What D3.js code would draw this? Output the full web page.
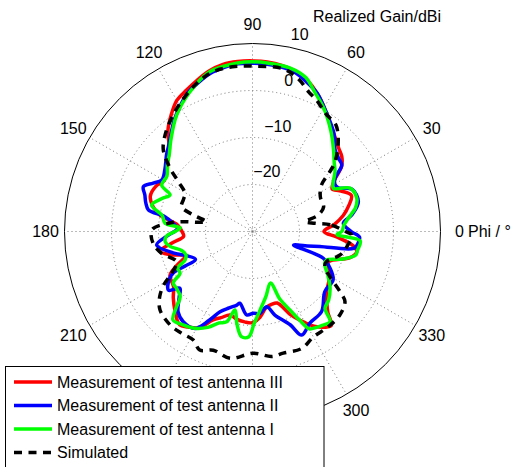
<!DOCTYPE html>
<html>
<head>
<meta charset="utf-8">
<script src="https://cdn.jsdelivr.net/npm/d3@7"></script>
<style>
body { margin: 0; background: #fff; }
svg text { font-family: "Liberation Sans", Arial, Helvetica, sans-serif; font-size: 16px; fill: #000; }
</style>
</head>
<body>
<div id="chart"></div>
<script>
// realized gain (dBi) against phi (deg)
var phiIII = [0,5,10,15,20,25,28,32,36,40,44,50,55,60,65,70,75,80,85,90,95,100,105,110,115,120,125,130,135,140,145,150,155,161,166,170,175,180,184,188,192,196,200,204,208,215,220,226,232,236,241,246,250,255,260,265,270,275,280,285,289,295,300,303,307,310,313,316,321,326,331,338,345,349,352,356];
var gainIII = [-14.8,-12.5,-10.4,-8.8,-7.6,-9.5,-10.8,-9.5,-6.6,-5.2,-4.5,-3,-1.5,0.5,2.5,4.2,5.3,5.9,6.2,6.3,6.3,6.1,5.4,4.3,3.2,2.2,0.2,-2,-5,-6.5,-7.8,-8.3,-7.3,-7,-8.2,-10,-14,-15,-15.3,-12.8,-9.8,-12,-14.8,-12.5,-10.1,-9.5,-8,-6.3,-4.8,-5.5,-6.6,-9.4,-10.5,-11.6,-11,-10.7,-10.6,-11.7,-13.5,-14,-13.9,-10.3,-7.6,-6,-4.5,-3.9,-6.5,-8,-9.7,-10.5,-11.1,-12.6,-8.5,-7.4,-8.4,-11.8];

var phiII = [0,5.2,9.4,15.7,23,27,30,33,36.7,40,44.6,50,55,60,65,70,75,80,85,90,95,100,105,110,115.5,120,125,130,134.8,138.3,144.9,150.4,154,157.7,161.2,165,168.3,170.4,174.1,178,182.4,188,195,200,206,207.5,210,215,218,222,227.2,232.5,239.3,244,248,253,258,260,266,270.6,275.2,280.7,285,292,295.4,302,310.8,320.3,329,334.6,339.3,341.7,344.8,347.5,350.5,353,357];
var gainII = [-9,-10.6,-8.6,-6.6,-7,-9.5,-9.8,-9,-6.3,-6,-5.3,-3,-1.3,0.5,2.5,3.8,5,5.5,5.7,5.8,5.8,5.4,4.8,3.7,2.4,0.8,-1,-3,-4.6,-5.5,-7.2,-7.8,-6.5,-4.9,-5.8,-6.5,-7.4,-11.1,-13,-14,-12.1,-9.4,-12.5,-15,-16.5,-11.1,-9.5,-8.2,-10.4,-9,-6.7,-5.8,-6,-9,-11.6,-13,-14,-14.5,-12.2,-12.6,-12.5,-13.7,-11.6,-8.6,-5.6,-7,-7.5,-10,-10,-11.7,-13.9,-20.8,-18.4,-15.3,-8.2,-7.5,-7.2];

var phiI = [0,4,8,13,18,24,28,31,36,40,45,52,60,66,71,77,85,90,95,105,114,123,132,137,142,147,153,156,160,165.3,170,174.6,177,180,183,186.6,190,195,199,203,206,210,213,217,222,225,228,233,239,245,250,254,257.4,260.5,264,268,271,275.5,281.7,289.3,292,295.5,298,300.3,302,306,310.7,313.3,318,324,330,336,339,343,347,350,355,358];
var gainI = [-11,-10.5,-9.4,-7.5,-6.7,-7.3,-10.5,-10,-8.3,-7.3,-5.6,-2.9,0.3,2.5,4.7,5.7,6,6.1,6,5.2,2.6,-0.4,-4,-5.8,-7,-8.3,-8.3,-10.8,-9.5,-7.8,-10.5,-11.3,-14.6,-13.5,-11.7,-11.3,-12.1,-14.4,-15,-14.4,-12.3,-12.2,-9.9,-9.8,-9.3,-7,-4.7,-5.2,-6,-7.5,-9.3,-10,-12.9,-10,-7.5,-7.6,-10.4,-13.2,-15.9,-18.4,-14.5,-11.5,-8.6,-6,-5.7,-5.2,-4.7,-7.5,-8.2,-9.6,-11.5,-13.2,-13.1,-10,-7.5,-7.3,-7,-12];

var phiSim = [0,5,7.5,10.6,14,19,27,34,37.7,40.2,46.3,52,58,64,68,73,79,90,97,104,110.6,119.5,126,132.2,137.6,142.5,146.1,150.5,155,160.7,164.4,168,170.4,171.7,174.4,179.1,186.8,193.5,201.7,207.4,211,215,220.3,228.6,235,241.4,246,251.7,260,270.4,278.7,284.2,292.8,300,308.5,316.3,322.8,325.5,329.7,334.1,338,345,352,358];
var gainSim = [-10.2,-13.4,-16.6,-18.6,-15.6,-14,-13.8,-12.3,-9.2,-7,-3.6,-1.2,-0.5,1.1,2,3.8,5.2,5.2,5.3,5,3.7,1.3,-0.5,-2.3,-4.3,-7.9,-11,-13.5,-13.8,-14,-16.9,-20,-18.3,-15.5,-12,-8.6,-8.7,-10.1,-12.6,-10.6,-8,-5.9,-4.2,-3.5,-3.6,-3.7,-2.4,-3.4,-2.6,-4.1,-3.1,-3.3,-3,-4.1,-4.1,-4.3,-5.3,-7.4,-10.9,-12.9,-13,-10.7,-9.5,-8.9];

var seriesNames = ["Measurement of test antenna III", "Measurement of test antenna II", "Measurement of test antenna I", "Simulated"];
var angleTicks = [0, 30, 60, 90, 120, 150, 180, 210, 240, 270, 300, 330];
var ringTicks = [-20, -10, 0, 10];

var width = 518, height = 467;
var cx = 252.5, cy = 231.5, rMax = 188;

var svg = d3.select("#chart").append("svg")
	.attr("width", width)
	.attr("height", height);

svg.append("rect").attr("width", width).attr("height", height).attr("fill", "#fff");

var r = d3.scaleLinear().domain([-30, 10]).range([0, rMax]);
var rad = function(deg) { return deg * Math.PI / 180; };

var plot = svg.append("g").attr("transform", "translate(" + cx + "," + cy + ")");

// dotted grid: rings and spokes
var grid = plot.append("g")
	.attr("fill", "none")
	.attr("stroke", "#777")
	.attr("stroke-width", 1)
	.attr("stroke-dasharray", "1,3");

grid.selectAll("circle.ring")
	.data([-29.4].concat(ringTicks.slice(0, 3)))
	.enter().append("circle")
		.attr("class", "ring")
		.attr("r", function(d) { return r(d); });

grid.selectAll("line")
	.data(angleTicks)
	.enter().append("line")
		.attr("x1", 0).attr("y1", 0)
		.attr("x2", function(d) { return r(10) * Math.cos(rad(d)); })
		.attr("y2", function(d) { return -r(10) * Math.sin(rad(d)); });

plot.append("circle")
	.attr("r", r(10))
	.attr("fill", "none")
	.attr("stroke", "#000")
	.attr("stroke-width", 1);

// angle labels; 240 and 270 sit under the legend box, so leave them out
plot.selectAll("text.ang")
	.data(angleTicks.filter(function(d) { return d != 240 && d != 270; }))
	.enter().append("text")
		.attr("class", "ang")
		.attr("x", function(d) { return 207 * Math.cos(rad(d)); })
		.attr("y", function(d) { return -207 * Math.sin(rad(d)); })
		.attr("text-anchor", "middle")
		.attr("dominant-baseline", "central")
		.text(function(d) { return d; });

// ring labels
plot.selectAll("text.ring")
	.data(ringTicks)
	.enter().append("text")
		.attr("class", "ring")
		.attr("x", function(d) { return (r(d) + 14.5) * Math.cos(rad(76.5)); })
		.attr("y", function(d) { return -(r(d) + 14.5) * Math.sin(rad(76.5)); })
		.attr("text-anchor", "middle")
		.attr("dominant-baseline", "central")
		.text(function(d) { return d < 0 ? "\u2212" + Math.abs(d) : d; });

var line = d3.lineRadial()
	.angle(function(d) { return rad(90 - d[0]); })
	.radius(function(d) { return r(d[1]); })
	.curve(d3.curveCatmullRomClosed.alpha(0.5));

var series = [
	{ phi: phiIII, gain: gainIII, color: "#ff0000", dash: null },
	{ phi: phiII, gain: gainII, color: "#0000ff", dash: null },
	{ phi: phiI, gain: gainI, color: "#00ff00", dash: null },
	{ phi: phiSim, gain: gainSim, color: "#000000", dash: "8,6.5" }
];

series.forEach(function(s) {
	var pts = d3.zip(s.phi, s.gain);
	plot.append("path")
		.attr("d", line(pts))
		.attr("fill", "none")
		.attr("stroke", s.color)
		.attr("stroke-width", 3.5)
		.attr("stroke-linejoin", "round")
		.attr("stroke-dasharray", s.dash);
});

svg.append("text")
	.attr("x", 468)
	.attr("y", cy)
	.attr("dominant-baseline", "central")
	.text("Phi / \u00b0");

svg.append("text")
	.attr("x", 313)
	.attr("y", 22)
	.text("Realized Gain/dBi");

// legend box, bottom left, runs off the page
var legend = svg.append("g");
legend.append("rect")
	.attr("x", 5.5).attr("y", 366.5)
	.attr("width", 318.5).attr("height", 120)
	.attr("fill", "#fff")
	.attr("stroke", "#000")
	.attr("stroke-width", 1);

var rowY = d3.scaleLinear().domain([0, 1]).range([382, 405.5]);
series.forEach(function(s, i) {
	legend.append("line")
		.attr("x1", 14).attr("x2", 52)
		.attr("y1", rowY(i)).attr("y2", rowY(i))
		.attr("stroke", s.color)
		.attr("stroke-width", 3.5)
		.attr("stroke-dasharray", s.dash);
	legend.append("text")
		.attr("x", 57)
		.attr("y", rowY(i))
		.attr("dominant-baseline", "central")
		.text(seriesNames[i]);
});
</script>
</body>
</html>
